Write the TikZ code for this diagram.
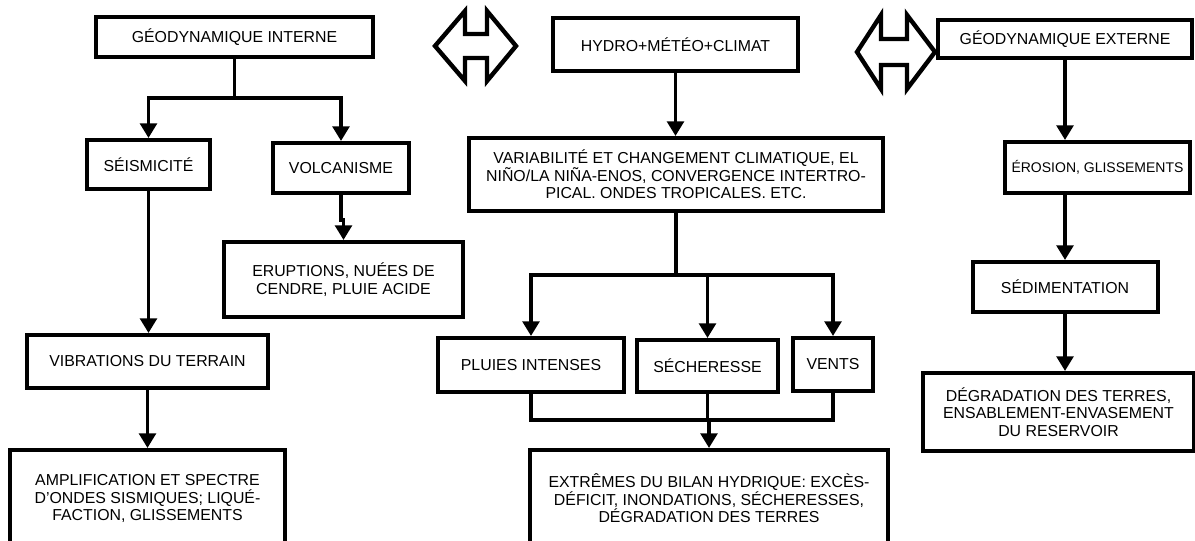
\documentclass[tikz,border=0pt]{standalone}
\usepackage{fontspec}
\setmainfont{Liberation Sans}
\usetikzlibrary{arrows.meta}
\begin{document}
\begin{tikzpicture}[x=0.75pt,y=-0.75pt,
  box/.style={draw, line width=3pt, fill=white, align=center,
    font=\fontsize{11.9}{13.1}\selectfont, inner sep=0pt},
  bw/.style={minimum width=#1*0.75pt},
  bh/.style={minimum height=#1*0.75pt},
  conn/.style={line width=2.7pt},
  arr/.style={conn, -{Triangle[width=12.5pt,length=11pt]}},
  dbl/.style={line width=3.3pt, line join=miter, fill=white}]
\useasboundingbox (0,0) rectangle (1195,541);
\clip (0,0) rectangle (1195,541);

% left column
\node[box, bw=277, bh=40] (gi) at (234.5,37) {GÉODYNAMIQUE INTERNE};
\node[box, bw=123, bh=49] (seis) at (148.5,164.5) {SÉISMICITÉ};
\node[box, bw=136, bh=50] (volc) at (341,168) {VOLCANISME};
\node[box, bw=239, bh=75] (erup) at (343.5,279.5) {ERUPTIONS, NUÉES DE\\CENDRE, PLUIE ACIDE};
\node[box, bw=241, bh=53] (vib) at (147.5,361.5) {VIBRATIONS DU TERRAIN};
\node[box, bw=275, bh=97] (ampl) at (147.5,498.5) {AMPLIFICATION ET SPECTRE\\D’ONDES SISMIQUES; LIQUÉ-\\FACTION, GLISSEMENTS};

% middle column
\node[box, bw=245, bh=53] (hydro) at (675.5,44.5) {HYDRO+MÉTÉO+CLIMAT};
\node[box, bw=414, bh=73] (var) at (676,174.5) {VARIABILITÉ ET CHANGEMENT CLIMATIQUE, EL\\NIÑO/LA NIÑA-ENOS, CONVERGENCE INTERTRO-\\PICAL. ONDES TROPICALES. ETC.};
\node[box, bw=186, bh=54] (pluies) at (531,365) {PLUIES INTENSES};
\node[box, bw=141, bh=52] (sech) at (707.5,366) {SÉCHERESSE};
\node[box, bw=80, bh=53] (vents) at (833,364.5) {VENTS};
\node[box, bw=358, bh=97] (extr) at (709,498.5) {EXTRÊMES DU BILAN HYDRIQUE: EXCÈS-\\DÉFICIT, INONDATIONS, SÉCHERESSES,\\DÉGRADATION DES TERRES};

% right column
\node[box, bw=254, bh=38] (ge) at (1065,39) {GÉODYNAMIQUE EXTERNE};
\node[box, bw=185, bh=51, font=\fontsize{10.5}{12}\selectfont] (eros) at (1097.5,167.5) {ÉROSION, GLISSEMENTS};
\node[box, bw=185, bh=50] (sedim) at (1065,287) {SÉDIMENTATION};
\node[box, bw=271, bh=78] (degr) at (1058.5,412) {DÉGRADATION DES TERRES,\\ENSABLEMENT-ENVASEMENT\\DU RESERVOIR};

% junctions
\coordinate (j1) at (234.5,98);
\coordinate (j2) at (676,275);
\coordinate (j3) at (709,420);

% left connectors
\draw[conn] (gi.south) -- (j1);
\draw[arr] (j1) -| (seis.north);
\draw[arr] (j1) -| (volc.north);
\draw[arr] (volc.south) -- ++(0,25) -| (erup.north);
\draw[arr] (seis.south) -- (seis.south |- vib.north);
\draw[arr] (vib.south) -- (ampl.north);

% middle connectors
\draw[arr] (hydro.south) -- (hydro.south |- var.north);
\draw[conn] (var.south) -- (j2);
\draw[arr] (j2) -| (pluies.north);
\draw[arr] (j2) -| (sech.north);
\draw[arr] (j2) -| (vents.north);
\draw[conn] (pluies.south) |- (j3);
\draw[conn] (vents.south) |- (j3);
\draw[conn] (sech.south) -- (sech.south |- j3);
\draw[arr] (j3) -- (extr.north);

% right connectors
\draw[arr] (ge.south) -- (ge.south |- eros.north);
\draw[arr] (eros.south -| sedim.north) -- (sedim.north);
\draw[arr] (sedim.south) -- (sedim.south |- degr.north);

% double arrows
\draw[dbl] (435,46) -- (465,11) -- (465,34) -- (487,34) -- (487,11) -- (516,46)
  -- (487,81) -- (487,58) -- (465,58) -- (465,81) -- cycle;
\draw[dbl] (857,52) -- (881,15) -- (881,39) -- (907,39) -- (907,15) -- (935,52)
  -- (907,89) -- (907,65) -- (881,65) -- (881,89) -- cycle;
\end{tikzpicture}
\end{document}
